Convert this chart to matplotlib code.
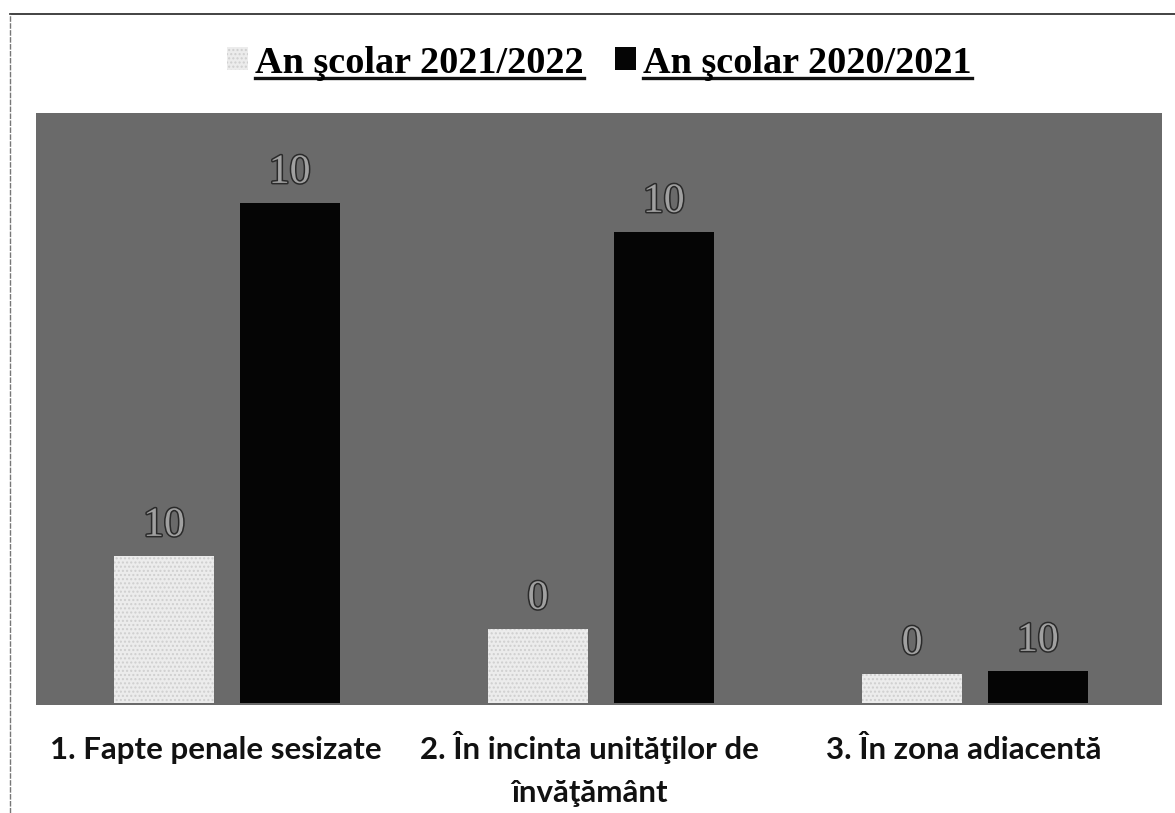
import numpy as np
import matplotlib
matplotlib.use("Agg")
import matplotlib.pyplot as plt
import matplotlib.patheffects as pe
from matplotlib.lines import Line2D

# values (bar heights, relative units)
categories = ["1. Fapte penale sesizate",
              "2. În incinta unităţilor de\nînvăţământ",
              "3. În zona adiacentă"]
series_names = ["An şcolar 2021/2022", "An şcolar 2020/2021"]
values_2122 = [29.4, 14.8, 5.8]
values_2021 = [100.0, 94.2, 6.4]
# data labels as printed on the (garbled) scan
labels_2122 = ["10", "0", "0"]
labels_2021 = ["10", "10", "10"]

fig = plt.figure(figsize=(11.75, 8.13), dpi=100)
ax = fig.add_axes([36 / 1175, 1 - 705 / 813, (1162 - 36) / 1175, (705 - 113) / 813])
ax.set_facecolor("#6a6a6a")

x = np.arange(len(categories))
w = 0.267
off = 0.168
b1 = ax.bar(x - off, values_2122, w, color="#ececec", edgecolor="#d0d0d0",
            hatch="....", linewidth=0, label=series_names[0])
b2 = ax.bar(x + off, values_2021, w, color="#050505", label=series_names[1])
for b in b1:
    b.set_edgecolor("#cfcfcf")

outline = [pe.withStroke(linewidth=2.2, foreground="#2a2a2a")]
for bars, labs in ((b1, labels_2122), (b2, labels_2021)):
    for rect, lab in zip(bars, labs):
        ax.annotate(lab, (rect.get_x() + rect.get_width() / 2, rect.get_height()),
                    xytext=(0, 8), textcoords="offset points", ha="center", va="bottom",
                    fontsize=30, family="Liberation Serif", color="#a0a0a0",
                    path_effects=outline)

ax.set_xlim(-0.51, 2.5)
ax.set_ylim(-0.4, 118)
ax.set_yticks([])
ax.set_xticks([])
for s in ax.spines.values():
    s.set_visible(False)

# category labels under each group, first lines on one level
for xi, cat in zip(x, categories):
    dy = -22 + (3.5 if "\n" in cat else 0)
    ax.annotate(cat, (xi - 0.03, 0), xycoords=("data", "axes fraction"),
                xytext=(0, dy), textcoords="offset points", ha="center", va="top",
                fontsize=22.5, fontweight="bold", family="Lato", linespacing=1.65,
                color="#111111", annotation_clip=False)

leg = fig.legend(handles=[b1, b2], labels=series_names, loc="center",
                 bbox_to_anchor=(0.51, 1 - 63 / 813), ncol=2, frameon=False,
                 prop={"family": "Liberation Serif", "weight": "bold", "size": 27.5},
                 handlelength=0.55, handleheight=0.55, handletextpad=0.2,
                 columnspacing=0.8)

# page border of the scan
fig.add_artist(Line2D([10 / 1175, 1.0], [1 - 14 / 813] * 2, transform=fig.transFigure,
                      color="#222222", lw=1.2))
fig.add_artist(Line2D([10 / 1175] * 2, [0, 1 - 14 / 813], transform=fig.transFigure,
                      color="#777777", lw=1.0, linestyle=(0, (4, 1))))

# underline the legend texts
fig.canvas.draw()
r = fig.canvas.get_renderer()
for t in leg.get_texts():
    bb = t.get_window_extent(r)
    y = (bb.y0 + 3) / fig.bbox.height
    fig.add_artist(Line2D([bb.x0 / fig.bbox.width, bb.x1 / fig.bbox.width], [y, y],
                          transform=fig.transFigure, color="#111111", lw=2.4))

fig.savefig("out.png", dpi=100)
